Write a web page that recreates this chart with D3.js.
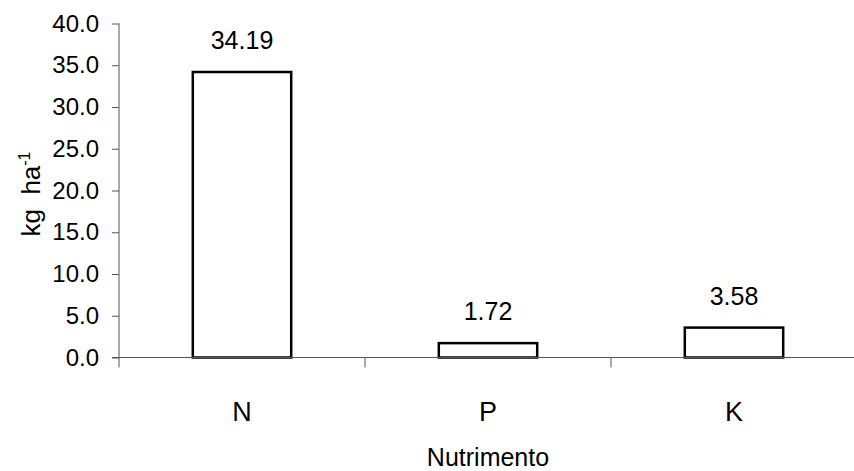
<!DOCTYPE html>
<html><head><meta charset="utf-8">
<script src="https://cdn.jsdelivr.net/npm/d3@7"></script>
<style>
body{margin:0;background:#fff;}
text{font-family:"Liberation Sans",Arial,sans-serif;fill:#000;}
</style></head>
<body>
<svg id="c" width="854" height="471"></svg>
<script>
const categories = ["N","P","K"];
const values = [34.19, 1.72, 3.58];
const yTicks = [0,5,10,15,20,25,30,35,40];
const xTitle = "Nutrimento";

const svg = d3.select("#c");
const x = d3.scaleBand().domain(categories).range([119, 857]).paddingInner(0.6).paddingOuter(0.3);
const y = d3.scaleLinear().domain([0,40]).range([357.5, 23.5]);

// bars
svg.selectAll("rect.bar").data(categories).enter().append("rect")
  .attr("x", d => x(d)).attr("width", x.bandwidth())
  .attr("y", (d,i) => y(values[i])).attr("height", (d,i) => y(0) - y(values[i]))
  .attr("fill","#fff").attr("stroke","#000").attr("stroke-width",2.5);

// y axis
const ya = svg.append("g").attr("transform","translate(119,0)")
  .call(d3.axisLeft(y).tickValues(yTicks).tickFormat(d3.format(".1f")).tickSize(7).tickPadding(13));
ya.select(".domain").remove();
ya.selectAll("line").attr("stroke","#555");
ya.selectAll("text").style("font-size","24px").attr("fill","#000");
svg.append("line").attr("x1",119).attr("x2",119).attr("y1",y(40)).attr("y2",y(0)+10).attr("stroke","#555");

// x axis
svg.append("line").attr("x1",112).attr("x2",857).attr("y1",y(0)).attr("y2",y(0)).attr("stroke","#555");
const bnd = categories.map(c => x(c) + x.bandwidth() + x.step()*0.3);
svg.selectAll("line.xt").data(bnd).enter().append("line")
  .attr("x1", d=>d).attr("x2", d=>d).attr("y1", y(0)).attr("y2", y(0)+10).attr("stroke","#555");
const xa = svg.append("g").attr("transform",`translate(0,${y(0)})`)
  .call(d3.axisBottom(x).tickSize(0).tickPadding(44));
xa.select(".domain").remove();
xa.selectAll("text").style("font-size","27px").attr("fill","#000");

// value labels
svg.selectAll("text.val").data(categories).enter().append("text")
  .attr("x", d => x(d) + x.bandwidth()/2).attr("y", (d,i) => y(values[i]) - 23)
  .attr("text-anchor","middle").style("font-size","25px")
  .text((d,i) => values[i].toFixed(2));

// titles
svg.append("text").attr("x", 488).attr("y", 466).attr("text-anchor","middle").style("font-size","25px").text(xTitle);
const yt = svg.append("text").attr("transform","translate(40,194) rotate(-90)").attr("text-anchor","middle").style("font-size","26px");
yt.append("tspan").text("kg\u00a0\u00a0ha");
yt.append("tspan").attr("dy",-10).style("font-size","16px").text("-1");
</script>
</body></html>
